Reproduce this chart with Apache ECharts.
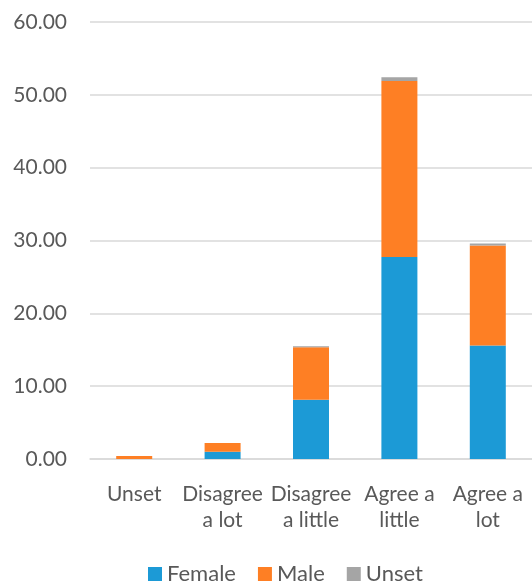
<!DOCTYPE html>
<html>
<head>
<meta charset="utf-8">
<script src="https://cdn.jsdelivr.net/npm/echarts@6/dist/echarts.min.js"></script>
<style>
  html, body { margin: 0; padding: 0; background: #fff; }
  #chart { width: 532px; height: 585px; }
</style>
</head>
<body>
<div id="chart"></div>
<script>
// Response categories along the x axis
const categories = ['Unset', 'Disagree\na lot', 'Disagree\na little', 'Agree a\nlittle', 'Agree a\nlot'];

// Percentages per gender, stacked per category
const femaleValues = [0.0, 1.0, 8.14, 27.74, 15.6];
const maleValues = [0.4, 1.2, 7.2, 24.16, 13.7];
const unsetValues = [0.0, 0.0, 0.13, 0.5, 0.3];

const seriesNames = ['Female', 'Male', 'Unset'];
const seriesColors = ['#1c9ad6', '#fe7f24', '#a5a5a5'];

const textColor = '#595959';
const fontFamily = 'Lato, "Open Sans", sans-serif';

const chart = echarts.init(document.getElementById('chart'));

const valueSets = [femaleValues, maleValues, unsetValues];

chart.setOption({
  animation: false,
  textStyle: { fontFamily: fontFamily },
  grid: { left: 90, top: 22, width: 446, height: 437 },
  legend: {
    top: 558,
    left: 143,
    itemWidth: 14,
    itemHeight: 14,
    itemGap: 22,
    icon: 'rect',
    textStyle: { color: textColor, fontSize: 22, fontFamily: fontFamily },
    data: seriesNames
  },
  xAxis: {
    type: 'category',
    data: categories,
    axisLine: { lineStyle: { color: '#d9d9d9', width: 1.5 } },
    axisTick: { show: false },
    axisLabel: {
      color: textColor,
      fontSize: 21,
      lineHeight: 26,
      margin: 22,
      interval: 0,
      fontFamily: fontFamily
    }
  },
  yAxis: {
    type: 'value',
    min: 0,
    max: 60,
    interval: 10,
    axisLine: { show: false },
    axisTick: { show: false },
    splitLine: { lineStyle: { color: '#d9d9d9', width: 1.5 } },
    axisLabel: {
      color: textColor,
      fontSize: 21,
      margin: 23,
      fontFamily: fontFamily,
      formatter: v => v.toFixed(2)
    }
  },
  series: seriesNames.map((name, i) => ({
    name: name,
    type: 'bar',
    stack: 'total',
    barWidth: 36,
    itemStyle: { color: seriesColors[i] },
    data: valueSets[i]
  }))
});
</script>
</body>
</html>
